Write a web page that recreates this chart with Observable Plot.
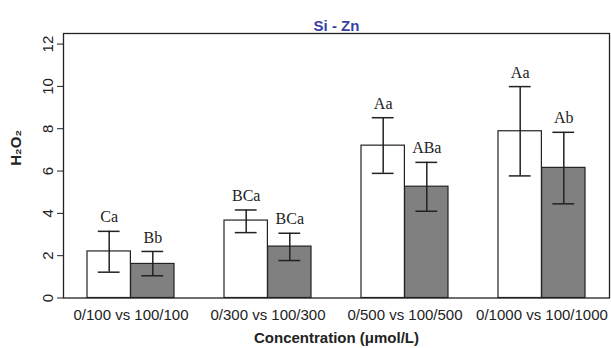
<!DOCTYPE html>
<html>
<head>
<meta charset="utf-8">
<script src="https://cdn.jsdelivr.net/npm/d3@7"></script>
<script src="https://cdn.jsdelivr.net/npm/@observablehq/plot@0.6"></script>
<style>
  html, body { margin: 0; padding: 0; background: white; }
</style>
</head>
<body>
<div id="chart"></div>
<script>
// ---- data ----
const groups = ["0/100 vs 100/100", "0/300 vs 100/300", "0/500 vs 100/500", "0/1000 vs 100/1000"];
const means0   = [2.20, 3.66, 7.20, 7.88];
const upper0   = [3.15, 4.16, 8.52, 9.99];
const lower0   = [1.22, 3.09, 5.89, 5.77];
const letters0 = ["Ca", "BCa", "Aa", "Aa"];
const means100   = [1.61, 2.43, 5.26, 6.15];
const upper100   = [2.20, 3.06, 6.41, 7.83];
const lower100   = [1.05, 1.77, 4.10, 4.45];
const letters100 = ["Bb", "BCa", "ABa", "Ab"];
const yTicks = [0, 2, 4, 6, 8, 10, 12];
const title = "Si - Zn";
const xTitle = "Concentration (μmol/L)";
const yTitle = "H₂O₂";

const rows0 = groups.map((g, i) => ({group: g, mean: means0[i], upper: upper0[i], lower: lower0[i], letter: letters0[i]}));
const rows100 = groups.map((g, i) => ({group: g, mean: means100[i], upper: upper100[i], lower: lower100[i], letter: letters100[i]}));

const W = 611, H = 348, mL = 63, mR = 2, mT = 33, mB = 50.5;
const xOpts = {type: "band", domain: groups, paddingInner: 0.367, paddingOuter: 0.165};
const bw = Plot.scale({x: {...xOpts, range: [mL, W - mR]}}).bandwidth;
const half = bw / 2;       // one bar = half a group band
const cap = 11;            // half-width of an error-bar cap
const ink = "#222";
const serif = "'Liberation Serif', 'DejaVu Serif', serif";

const chart = Plot.plot({
  width: W, height: H,
  marginLeft: mL, marginRight: mR, marginTop: mT, marginBottom: mB,
  style: {fontFamily: "'Liberation Sans', Arial, sans-serif", fontSize: "15px", color: ink, background: "white"},
  x: {domain: groups, paddingInner: 0.367, paddingOuter: 0.165},
  y: {domain: [0, 12.5]},
  marks: [
    Plot.axisY({ticks: yTicks, tickSize: 6, tickPadding: 5, tickRotate: -90, label: null, fontSize: 15, stroke: ink, fill: ink}),
    Plot.axisX({tickSize: 0, tickPadding: 11, label: null, fontSize: 15, fill: ink}),
    Plot.barY(rows0, {x: "group", y: "mean", fill: "white", stroke: ink, strokeWidth: 1.2, insetRight: half}),
    Plot.barY(rows100, {x: "group", y: "mean", fill: "#808080", stroke: ink, strokeWidth: 1.2, insetLeft: half}),
    Plot.ruleX(rows0, {x: "group", y1: "lower", y2: "upper", dx: -half / 2, stroke: ink, strokeWidth: 1.5}),
    Plot.ruleX(rows100, {x: "group", y1: "lower", y2: "upper", dx: half / 2, stroke: ink, strokeWidth: 1.5}),
    Plot.tickY(rows0, {x: "group", y: "upper", insetLeft: half / 2 - cap, insetRight: half + half / 2 - cap, stroke: ink, strokeWidth: 1.5}),
    Plot.tickY(rows0, {x: "group", y: "lower", insetLeft: half / 2 - cap, insetRight: half + half / 2 - cap, stroke: ink, strokeWidth: 1.5}),
    Plot.tickY(rows100, {x: "group", y: "upper", insetLeft: half + half / 2 - cap, insetRight: half / 2 - cap, stroke: ink, strokeWidth: 1.5}),
    Plot.tickY(rows100, {x: "group", y: "lower", insetLeft: half + half / 2 - cap, insetRight: half / 2 - cap, stroke: ink, strokeWidth: 1.5}),
    Plot.text(rows0, {x: "group", y: "upper", text: "letter", dx: -half / 2, dy: -14, fontFamily: serif, fontSize: 16, fill: ink}),
    Plot.text(rows100, {x: "group", y: "upper", text: "letter", dx: half / 2, dy: -14, fontFamily: serif, fontSize: 16, fill: ink}),
    Plot.frame({stroke: ink, strokeWidth: 1.3}),
    Plot.text([title], {frameAnchor: "top", dy: -13, fill: "#3b3fa3", fontWeight: "bold", fontSize: 15}),
    Plot.text([xTitle], {frameAnchor: "bottom", dy: 45, fill: ink, fontWeight: "bold", fontSize: 15}),
    Plot.text([yTitle], {frameAnchor: "left", dx: -47, rotate: -90, fill: ink, fontWeight: "bold", fontSize: 15})
  ]
});
document.getElementById("chart").appendChild(chart);
</script>
</body>
</html>
